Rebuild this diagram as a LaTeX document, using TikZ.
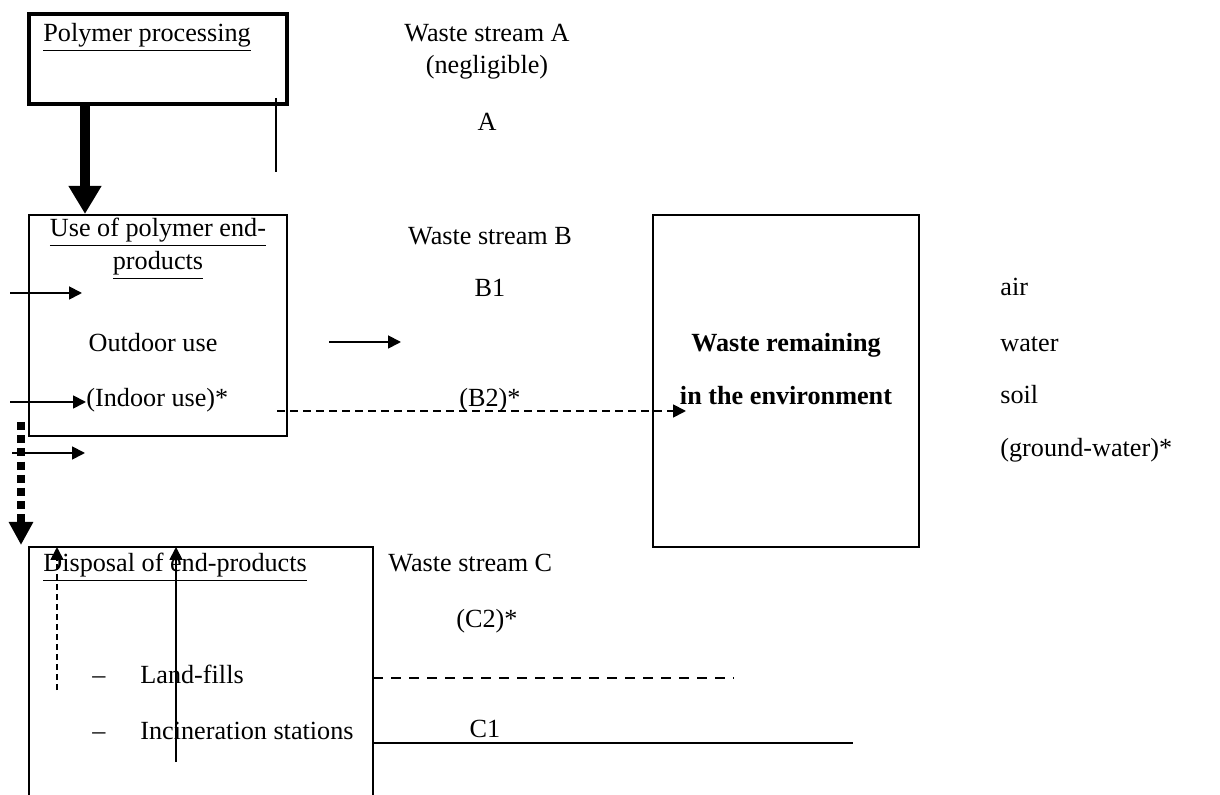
\documentclass[tikz,border=0pt]{standalone}
\usepackage{fontspec}
\setmainfont{Liberation Serif}
\usetikzlibrary{arrows.meta}
\begin{document}
\begin{tikzpicture}[x=0.5pt,y=-0.5pt,font=\fontsize{13.1}{16}\selectfont]
        \tikzstyle{every node}+=[inner sep=0pt]
        \tikzstyle{lbl}=[anchor=base]
        \tikzstyle{lblw}=[anchor=base west]
        \tikzstyle{box}=[draw=black, line width=1pt]
        \tikzstyle{flow}=[black, line width=0.9pt, -{Triangle[length=6.5pt,width=6.5pt]}]
        \useasboundingbox (0,0) rectangle (1220,795);
        % boxes
        \node (proc) [box, line width=2pt, minimum width=129pt, minimum height=45pt] at (158,59) {};
        \node (use) [box, minimum width=129pt, minimum height=110.5pt] at (158,325.5) {};
        \node (env) [box, minimum width=133pt, minimum height=166pt] at (786,381) {};
        \coordinate (dispbl) at (29,795);
        \coordinate (disptr) at (373,547);
        \draw [box] (dispbl) |- (disptr) -- (disptr |- dispbl);
        % texts
        \node (proclbl) [lblw] at (43,42) {\underline{Polymer processing}};
        \node (uselbl) [lbl] at (158,237) {\underline{Use of polymer end-}};
        \node (uselblb) [lbl] at (158,270) {\underline{products}};
        \node (outdoor) [lbl] at (153,352) {Outdoor use};
        \node (indoor) [lblw] at (86,407) {(Indoor use)*};
        \node (displbl) [lblw] at (43,572) {\underline{Disposal of end-products}};
        \node (dasha) [lbl] at (99,683) {--};
        \node (landfill) [lblw] at (140,683) {Land-fills};
        \node (dashb) [lbl] at (99,740) {--};
        \node (incin) [lblw] at (140,740) {Incineration stations};
        \node (wsA) [lbl] at (487,42) {Waste stream A};
        \node (wsAneg) [lbl] at (487,74) {(negligible)};
        \node (A) [lbl] at (487,131) {A};
        \node (wsB) [lbl] at (490,245) {Waste stream B};
        \node (B1) [lbl] at (490,297) {B1};
        \node (B2) [lbl] at (490,407) {(B2)*};
        \node (wsC) [lblw] at (388,572) {Waste stream C};
        \node (C2) [lbl] at (487,628) {(C2)*};
        \node (C1) [lbl] at (485,737) {C1};
        \node (envlbl) [lbl, font=\fontsize{13.1}{16}\selectfont\bfseries] at (786,352) {Waste remaining};
        \node (envlblb) [lbl, font=\fontsize{13.1}{16}\selectfont\bfseries] at (786,405) {in the environment};
        \node (air) [lblw] at (1000,296) {air};
        \node (water) [lblw] at (1000,352) {water};
        \node (soil) [lblw] at (1000,404) {soil};
        \node (gwater) [lblw] at (1000,457) {(ground-water)*};
        % connectors
        \coordinate (procout) at (85,104);
        \draw [black, line width=5pt, -{Triangle[length=14pt,width=15.5pt]}] (procout) -- (procout |- use.north);
        \coordinate (atop) at (276,98);
        \coordinate (abot) at (276,172);
        \draw [black, line width=0.75pt] (atop) -- (abot);
        \coordinate (ina) at (10,293);
        \coordinate (inb) at (10,402);
        \coordinate (inc) at (12,453);
        \draw [flow] (ina) -- (82,293);
        \draw [flow] (inb) -- (indoor.west |- inb);
        \draw [flow] (inc) -- (85,453);
        \coordinate (b1a) at (329,342);
        \coordinate (b1b) at (401,342);
        \draw [flow] (b1a) -- (b1b);
        \coordinate (b2a) at (277,411);
        \draw [flow, dash pattern=on 4pt off 2.5pt] (b2a) -- (686,411);
        \coordinate (dota) at (21,422);
        \coordinate (dotb) at (21,545);
        \draw [black, line width=4pt, dash pattern=on 4pt off 2.6pt, -{Triangle[length=11.5pt,width=11.5pt]}] (dota) -- (dotb);
        \coordinate (upa) at (57,690);
        \coordinate (upb) at (176,762);
        \draw [flow, dash pattern=on 3pt off 2pt] (upa) -- (upa |- disptr);
        \draw [flow] (upb) -- (upb |- disptr);
        \coordinate (c2end) at (734,678);
        \coordinate (c1end) at (853,743);
        \draw [black, line width=1pt, dash pattern=on 5pt off 4pt] (disptr |- c2end) -- (c2end);
        \draw [black, line width=0.75pt] (disptr |- c1end) -- (c1end);
    \end{tikzpicture}
\end{document}
